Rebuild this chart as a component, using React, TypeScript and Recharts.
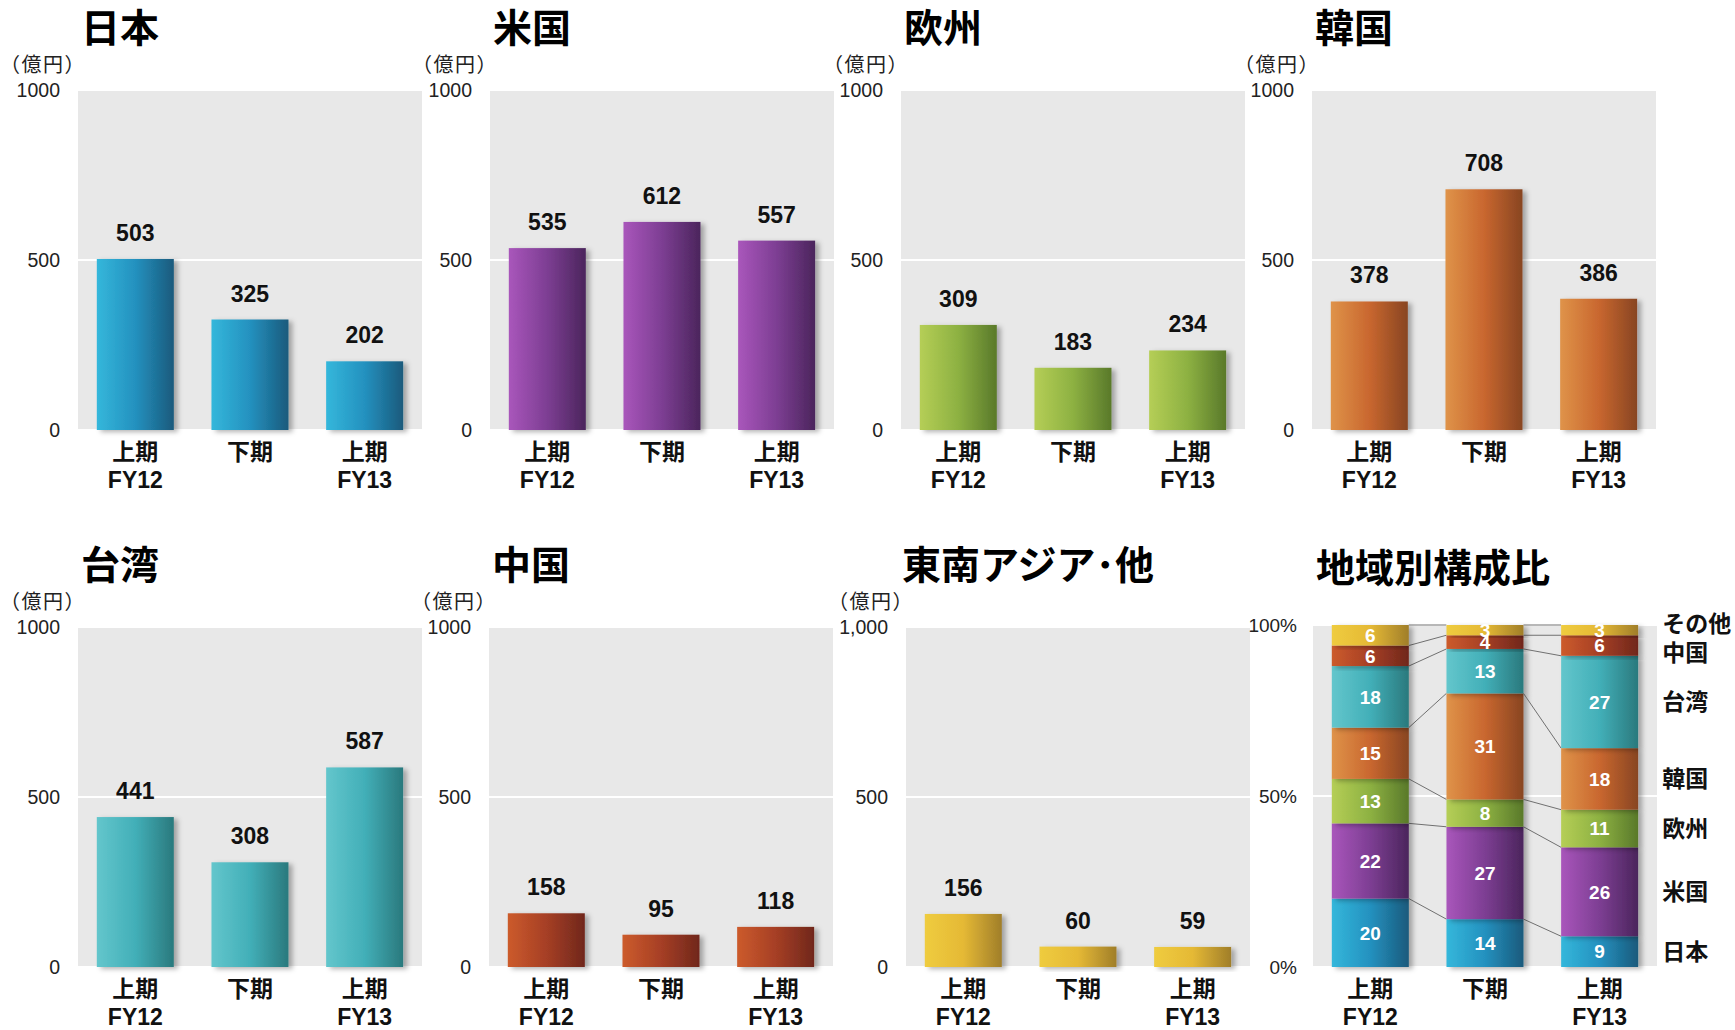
import React from 'react';
import { BarChart, Bar, XAxis, YAxis, CartesianGrid, LabelList } from 'recharts';

// period labels (two lines)
const periodTop = ['上期', '下期', '上期'];
const periodSub = ['FY12', '', 'FY13'];

// sales by region (億円)
const japan = [503, 325, 202];
const usa = [535, 612, 557];
const europe = [309, 183, 234];
const korea = [378, 708, 386];
const taiwan = [441, 308, 587];
const china = [158, 95, 118];
const seAsia = [156, 60, 59];

// composition (%)
const shareNames = ['日本', '米国', '欧州', '韓国', '台湾', '中国', 'その他'];
const shareJapan = [20, 14, 9];
const shareUsa = [22, 27, 26];
const shareEurope = [13, 8, 11];
const shareKorea = [15, 31, 18];
const shareTaiwan = [18, 13, 27];
const shareChina = [6, 4, 6];
const shareOther = [6, 3, 3];

const salesTicks = [0, 500, 1000];
const shareTicks = [0, 50, 100];

const FONT = "'Liberation Sans', Arial, 'Noto Sans CJK JP', sans-serif";
const GAP = 0.164;

const gradients: Record<string, string[]> = {
  blue: ['#34B7DB', '#2491BF', '#1A5A7C'],
  purple: ['#A956BB', '#7D3E93', '#4B255C'],
  green: ['#B5CE56', '#8DB142', '#59792A'],
  orange: ['#DF9349', '#C9672F', '#884522'],
  teal: ['#63C6CC', '#42AFB8', '#2A797D'],
  red: ['#CC5B2C', '#A63F25', '#70271C'],
  yellow: ['#EFCC3F', '#E5B935', '#A07E2A'],
};

// name labels right of the last bar; small nudges keep その他 / 中国 apart
const shareSeries = [
  { name: shareNames[0], values: shareJapan, grad: 'blue', nudge: 0 },
  { name: shareNames[1], values: shareUsa, grad: 'purple', nudge: 0 },
  { name: shareNames[2], values: shareEurope, grad: 'green', nudge: 0 },
  { name: shareNames[3], values: shareKorea, grad: 'orange', nudge: 0 },
  { name: shareNames[4], values: shareTaiwan, grad: 'teal', nudge: 0 },
  { name: shareNames[5], values: shareChina, grad: 'red', nudge: 7 },
  { name: shareNames[6], values: shareOther, grad: 'yellow', nudge: -6 },
];

const panels = [
  { title: '日本', values: japan, grad: 'blue', left: 0, top: 0 },
  { title: '米国', values: usa, grad: 'purple', left: 412, top: 0 },
  { title: '欧州', values: europe, grad: 'green', left: 823, top: 0 },
  { title: '韓国', values: korea, grad: 'orange', left: 1234, top: 0 },
  { title: '台湾', values: taiwan, grad: 'teal', left: 0, top: 537 },
  { title: '中国', values: china, grad: 'red', left: 411, top: 537 },
  { title: '東南アジア･他', values: seAsia, grad: 'yellow', left: 828, top: 537, comma: true, titleLeft: 74 },
];

function Defs() {
  return (
    <svg width={0} height={0} style={{ position: 'absolute' }}>
      <defs>
        {Object.entries(gradients).map(([k, c]) => (
          <linearGradient key={k} id={`g-${k}`} x1="0" y1="0" x2="1" y2="0">
            <stop offset="0%" stopColor={c[0]} />
            <stop offset="50%" stopColor={c[1]} />
            <stop offset="100%" stopColor={c[2]} />
          </linearGradient>
        ))}
        <filter id="barShadow" x="-20%" y="-20%" width="150%" height="140%">
          <feDropShadow dx="4" dy="2" stdDeviation="2.5" floodColor="#000" floodOpacity="0.3" />
        </filter>
      </defs>
    </svg>
  );
}

function PeriodTick(props: any) {
  const { x, y, payload } = props;
  const i = payload.index;
  return (
    <text x={x} textAnchor="middle" fontFamily={FONT} fontWeight="bold" fontSize={23} fill="#111">
      <tspan x={x} y={y + 30}>{periodTop[i]}</tspan>
      {periodSub[i] && <tspan x={x} y={y + 58}>{periodSub[i]}</tspan>}
    </text>
  );
}

const titleStyle: React.CSSProperties = {
  position: 'absolute',
  fontFamily: FONT,
  fontWeight: 'bold',
  fontSize: 39,
  lineHeight: 1,
  whiteSpace: 'nowrap',
  color: '#000',
};

const unitStyle: React.CSSProperties = {
  position: 'absolute',
  left: 0,
  top: 54,
  fontFamily: "'Noto Sans CJK JP', sans-serif",
  fontSize: 20,
  letterSpacing: 1.5,
  lineHeight: 1,
  whiteSpace: 'nowrap',
  color: '#222',
};

function RegionPanel({ title, values, grad, left, top, comma, titleLeft }: any) {
  const data = values.map((v: number, i: number) => ({ key: `${periodTop[i]}${periodSub[i]}`, value: v }));
  return (
    <div style={{ position: 'absolute', left, top, width: 430, height: 500 }}>
      <div style={{ ...titleStyle, left: titleLeft ?? 81, top: 9 }}>{title}</div>
      <div style={unitStyle}>（億円）</div>
      <div style={{ position: 'absolute', left: 0, top: 0 }}>
        <BarChart
          width={430}
          height={500}
          data={data}
          margin={{ top: 90, right: 8, bottom: 40, left: 0 }}
          barCategoryGap={`${GAP * 100}%`}
        >
          <CartesianGrid vertical={false} stroke="#ffffff" strokeWidth={2} fill="#E8E8E8" />
          <XAxis dataKey="key" tick={<PeriodTick />} tickLine={false} axisLine={false} tickSize={0} tickMargin={0} interval={0} />
          <YAxis
            domain={[0, 1000]}
            ticks={salesTicks}
            width={78}
            tickLine={false}
            axisLine={false}
            tickSize={0}
            tickMargin={18}
            tick={{ fontFamily: FONT, fontSize: 19.5, fill: '#222' }}
            tickFormatter={(v: number) => (comma ? v.toLocaleString('en-US') : String(v))}
          />
          <Bar
            dataKey="value"
            isAnimationActive={false}
            shape={(p: any) => (
              <rect x={p.x} y={p.y} width={p.width} height={p.height} fill={`url(#g-${grad})`} filter="url(#barShadow)" />
            )}
          >
            <LabelList dataKey="value" position="top" offset={18} fill="#111" fontFamily={FONT} fontWeight="bold" fontSize={23} />
          </Bar>
        </BarChart>
      </div>
    </div>
  );
}

function stackShape(si: number) {
  return (p: any) => {
    const i = p.index;
    const s = shareSeries[si];
    const v = s.values[i];
    const ppu = p.height / v;
    let cumTop = 0;
    let nextTop = 0;
    for (let k = 0; k <= si; k++) {
      cumTop += shareSeries[k].values[i];
      if (i < periodTop.length - 1) nextTop += shareSeries[k].values[i + 1];
    }
    const zeroY = p.y + cumTop * ppu;
    const band = p.width / (1 - 2 * GAP);
    return (
      <g>
        <rect x={p.x} y={p.y} width={p.width} height={p.height} fill={`url(#g-${s.grad})`} filter="url(#barShadow)" />
        {i < periodTop.length - 1 && (
          <line x1={p.x + p.width} y1={p.y} x2={p.x + band} y2={zeroY - nextTop * ppu} stroke="#707070" strokeWidth={1} />
        )}
      </g>
    );
  };
}

function SharePanel() {
  const data = periodTop.map((p, i) => {
    const row: any = { key: `${p}${periodSub[i]}` };
    shareSeries.forEach((s) => (row[s.name] = s.values[i]));
    return row;
  });
  return (
    <div style={{ position: 'absolute', left: 1235, top: 537, width: 500, height: 500 }}>
      <div style={{ ...titleStyle, left: 81, top: 12 }}>地域別構成比</div>
      <div style={{ position: 'absolute', left: 0, top: 0 }}>
        <BarChart
          width={500}
          height={500}
          data={data}
          margin={{ top: 88, right: 78, bottom: 40, left: 0 }}
          barCategoryGap={`${GAP * 100}%`}
        >
          <CartesianGrid vertical={false} stroke="#ffffff" strokeWidth={2} fill="#E8E8E8" />
          <XAxis dataKey="key" tick={<PeriodTick />} tickLine={false} axisLine={false} tickSize={0} tickMargin={0} interval={0} />
          <YAxis
            domain={[0, 100]}
            ticks={shareTicks}
            width={78}
            tickLine={false}
            axisLine={false}
            tickSize={0}
            tickMargin={16}
            tick={{ fontFamily: FONT, fontSize: 19, fill: '#222' }}
            tickFormatter={(v: number) => `${v}%`}
          />
          {shareSeries.map((s, si) => (
            <Bar key={s.name} dataKey={s.name} stackId="a" isAnimationActive={false} shape={stackShape(si)}>
              <LabelList dataKey={s.name} position="center" fill="#ffffff" fontFamily={FONT} fontWeight="bold" fontSize={19} />
              <LabelList
                dataKey={s.name}
                content={(lp: any) =>
                  lp.index === periodTop.length - 1 ? (
                    <text
                      x={lp.x + lp.width + 24}
                      y={lp.y + lp.height / 2 + s.nudge}
                      dy="0.36em"
                      fontFamily={FONT}
                      fontWeight="bold"
                      fontSize={23}
                      fill="#111"
                    >
                      {s.name}
                    </text>
                  ) : null
                }
              />
            </Bar>
          ))}
        </BarChart>
      </div>
    </div>
  );
}

export default function App() {
  return (
    <div style={{ position: 'absolute', left: 0, top: 0, width: 1735, height: 1030, background: '#fff', overflow: 'hidden' }}>
      <Defs />
      {panels.map((p) => (
        <RegionPanel key={p.title} {...p} />
      ))}
      <SharePanel />
    </div>
  );
}
